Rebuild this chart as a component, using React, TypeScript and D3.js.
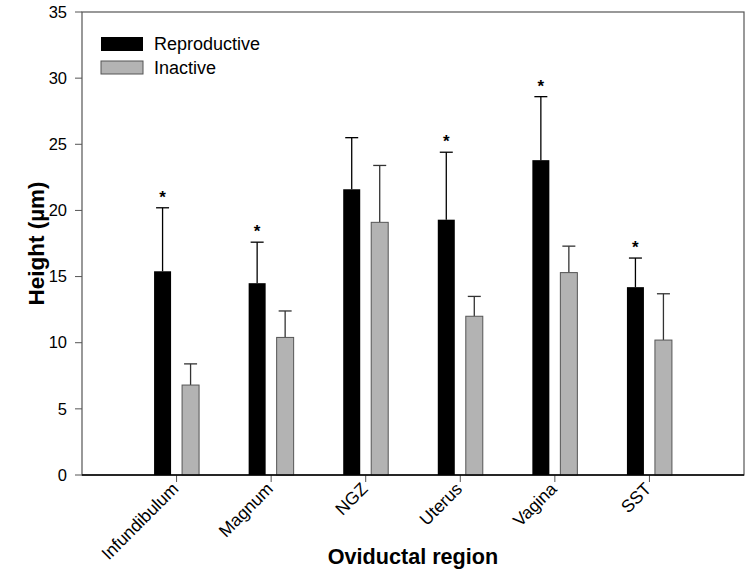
import React from "react";
import * as d3 from "d3";

const categories = ["Infundibulum", "Magnum", "NGZ", "Uterus", "Vagina", "SST"];
const reproductive = [15.4, 14.5, 21.6, 19.3, 23.8, 14.2];
const reproductiveErr = [4.8, 3.1, 3.9, 5.1, 4.8, 2.2];
const inactive = [6.8, 10.4, 19.1, 12.0, 15.3, 10.2];
const inactiveErr = [1.6, 2.0, 4.3, 1.5, 2.0, 3.5];
const significant = [true, true, false, true, true, true];
const yTicks = [0, 5, 10, 15, 20, 25, 30, 35];
const seriesNames = ["Reproductive", "Inactive"];

const W = 745, H = 573;
const L = 82, R = 744, T = 12, B = 475;
const font = "Liberation Sans, Arial, sans-serif";

export default function App() {
  const x = d3.scaleLinear().domain([0, categories.length + 1]).range([L, R]);
  const y = d3.scaleLinear().domain([0, 35]).range([B, T]);
  const bw = 17, gap = 5.5, cap = 6.5;
  return (
    <svg width={W} height={H} style={{ position: "absolute", left: 0, top: 0 }} fontFamily={font}>
      <rect x={0} y={0} width={W} height={H} fill="#fff" />
      <rect x={L} y={T} width={R - L} height={B - T} fill="none" stroke="#555" strokeWidth={1.2} />
      {yTicks.map((t) => (
        <g key={t}>
          <line x1={L - 7} x2={L} y1={y(t)} y2={y(t)} stroke="#555" />
          <text x={L - 15} y={y(t)} dy="0.35em" textAnchor="end" fontSize={16.5} fill="#000">{t}</text>
        </g>
      ))}
      {categories.map((c, i) => {
        const cx = x(i + 1);
        const bx = cx - gap - bw, gx = cx + gap;
        const rTop = reproductive[i] + reproductiveErr[i];
        const iTop = inactive[i] + inactiveErr[i];
        return (
          <g key={c}>
            <line x1={bx + bw / 2} x2={bx + bw / 2} y1={y(reproductive[i])} y2={y(rTop)} stroke="#000" strokeWidth={1.3} />
            <line x1={bx + bw / 2 - cap} x2={bx + bw / 2 + cap} y1={y(rTop)} y2={y(rTop)} stroke="#000" strokeWidth={1.3} />
            <line x1={gx + bw / 2} x2={gx + bw / 2} y1={y(inactive[i])} y2={y(iTop)} stroke="#333" strokeWidth={1.3} />
            <line x1={gx + bw / 2 - cap} x2={gx + bw / 2 + cap} y1={y(iTop)} y2={y(iTop)} stroke="#333" strokeWidth={1.3} />
            <rect x={bx} y={y(reproductive[i])} width={bw} height={B - y(reproductive[i])} fill="#000" />
            <rect x={gx} y={y(inactive[i])} width={bw} height={B - y(inactive[i])} fill="#b3b3b3" stroke="#555" strokeWidth={1} />
            {significant[i] && (
              <text x={bx + bw / 2} y={y(rTop) - 5} textAnchor="middle" fontSize={17} fontWeight="bold" fill="#000">*</text>
            )}
            <line x1={cx} x2={cx} y1={B} y2={B + 7} stroke="#555" />
            <text transform={`translate(${cx + 3},${B + 15}) rotate(-45)`} textAnchor="end" fontSize={17.5} fill="#000">{c}</text>
          </g>
        );
      })}
      <line x1={L} x2={R} y1={B} y2={B} stroke="#000" strokeWidth={1.5} />
      <rect x={101} y={37} width={42} height={14} fill="#000" />
      <rect x={101} y={61} width={42} height={13} fill="#b3b3b3" stroke="#555" />
      <text x={154} y={50} fontSize={18} fill="#000">{seriesNames[0]}</text>
      <text x={154} y={74} fontSize={18} fill="#000">{seriesNames[1]}</text>
      <text x={(L + R) / 2} y={564} textAnchor="middle" fontSize={21.6} fontWeight="bold" fill="#000">Oviductal region</text>
      <text transform={`translate(44,${(T + B) / 2}) rotate(-90)`} textAnchor="middle" fontSize={22.5} fontWeight="bold" fill="#000">Height (µm)</text>
    </svg>
  );
}
